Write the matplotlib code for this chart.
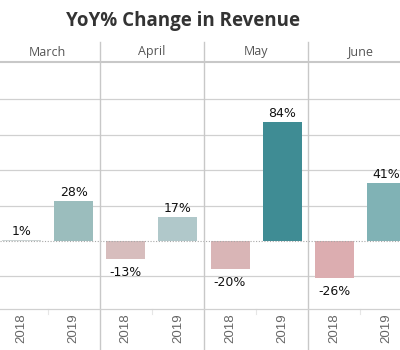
import matplotlib
matplotlib.use('Agg')
import matplotlib.pyplot as plt
import matplotlib.transforms as mtransforms
from matplotlib.lines import Line2D
import numpy as np

# data
months = ['March', 'April', 'May', 'June']
years = ['2018', '2019']
yoy_2018 = [1, -13, -20, -26]
yoy_2019 = [28, 17, 84, 41]
colors_2018 = ['#cdd5d5', '#d7bdbd', '#d9b5b6', '#dcadb0']
colors_2019 = ['#9bbdbd', '#b0c8ca', '#3f8c94', '#80b2b5']

values = []
colors = []
labels = []
for i in range(len(months)):
    values += [yoy_2018[i], yoy_2019[i]]
    colors += [colors_2018[i], colors_2019[i]]
    labels += years

x = np.arange(len(values))
grid_c = '#d0d0d0'
sep_c = '#c8c8c8'

fig = plt.figure(figsize=(4, 3.5), dpi=100)
ax = fig.add_axes([0, 1 - 309 / 350, 1, (309 - 63) / 350])

ax.bar(x, values, width=0.75, color=colors, zorder=2)
ax.set_xlim(-0.413, 7.26)
ax.set_ylim(-47.9, 125.4)

# gridlines
for g in [-25, 25, 50, 75, 100]:
    ax.axhline(g, color=grid_c, lw=0.9, zorder=1)
ax.axhline(0, color='#a8a8a8', lw=0.8, ls=(0, (1, 1.5)), zorder=3)

for s in ax.spines.values():
    s.set_visible(False)
ax.set_xticks([])
ax.set_yticks([])

# value labels
for xi, v in zip(x, values):
    if v >= 0:
        ax.annotate(f'{v}%', (xi, v), xytext=(0, 3.5), textcoords='offset points',
                    ha='center', va='baseline', fontsize=9, color='#111111',
                    family='DejaVu Sans', zorder=4)
    else:
        ax.annotate(f'{v}%', (xi, v), xytext=(0, -5), textcoords='offset points',
                    ha='center', va='top', fontsize=9, color='#111111',
                    family='DejaVu Sans', zorder=4)

trans = mtransforms.blended_transform_factory(ax.transData, fig.transFigure)

# panel separators
for sx in [1.5, 3.5, 5.5]:
    fig.add_artist(Line2D([sx, sx], [1 - 42 / 350, 0], transform=trans,
                          color=sep_c, lw=1.0))
# small ticks between years
for tx in [0.5, 2.5, 4.5, 6.5]:
    fig.add_artist(Line2D([tx, tx], [1 - 309 / 350, 1 - 314 / 350], transform=trans,
                          color='#e6e6e6', lw=0.8))

# header line and bottom axis line
fig.add_artist(Line2D([0, 1], [1 - 62 / 350, 1 - 62 / 350], transform=fig.transFigure,
                      color=sep_c, lw=1.5))
fig.add_artist(Line2D([0, 1], [1 - 309 / 350, 1 - 309 / 350], transform=fig.transFigure,
                      color=grid_c, lw=0.9))

# month headers
for i, m in enumerate(months):
    fig.text(2 * i + 0.5, 1 - 52 / 350, m, transform=trans, ha='center', va='center',
             fontsize=9, color='#555555', family='Open Sans')

# year labels
for xi, lab in zip(x, labels):
    fig.text(xi, 1 - 313 / 350, lab, transform=trans, ha='center', va='top',
             rotation=90, fontsize=9.5, color='#666666', family='Liberation Sans')

fig.text(183 / 400, 1 - 21 / 350, 'YoY% Change in Revenue', ha='center', va='center',
         fontsize=13.5, fontweight='bold', color='#333333', family='Open Sans')

fig.savefig('out.png', dpi=100)
